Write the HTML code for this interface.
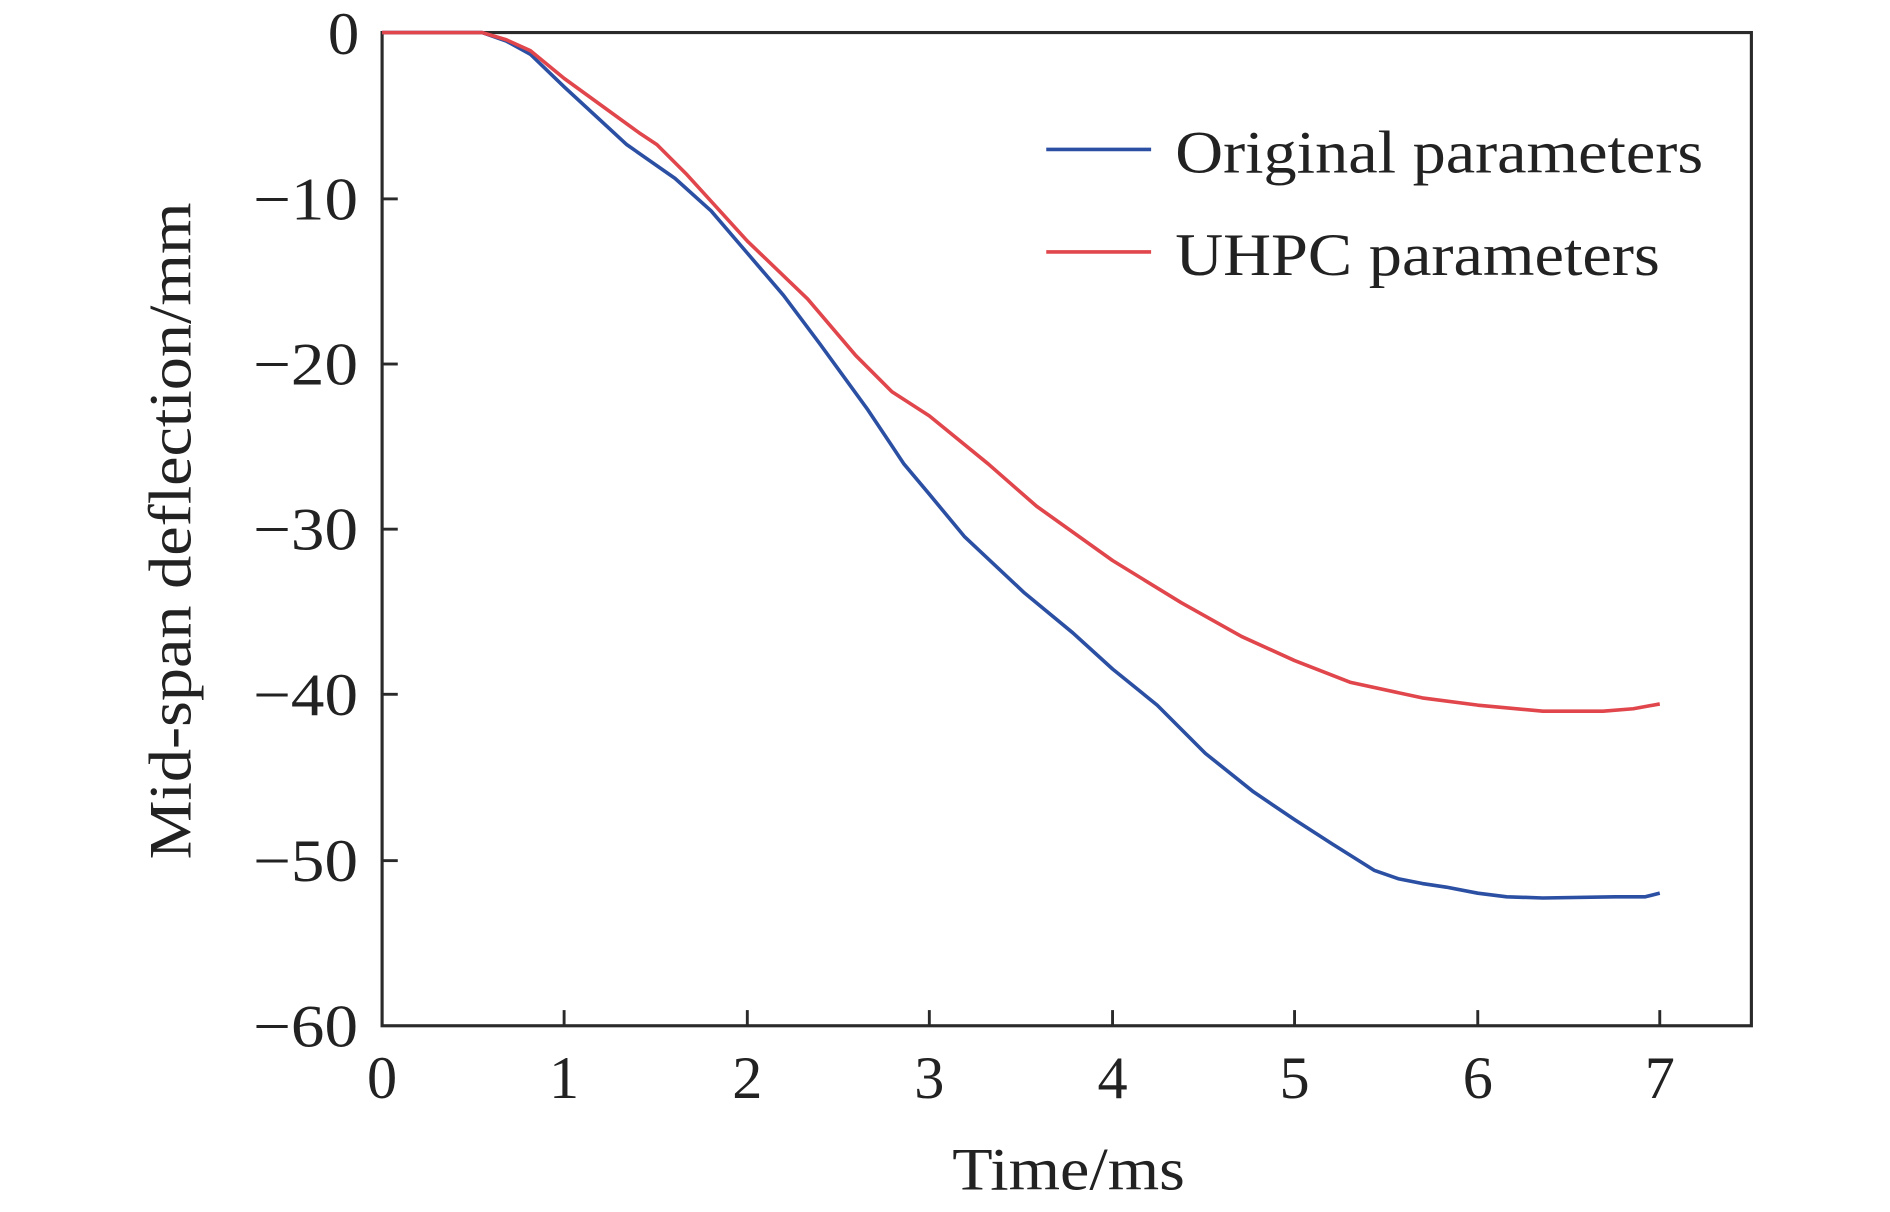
<!DOCTYPE html>
<html><head><style>html,body{margin:0;padding:0;background:#fff}svg{display:block}</style></head>
<body>
<svg width="1890" height="1212" viewBox="0 0 1568 1005.5" xmlns="http://www.w3.org/2000/svg" font-family="'Liberation Serif',serif" fill="#222">
<rect x="317" y="27" width="1136" height="824" fill="none" stroke="#2a2a2a" stroke-width="2.6"/>
<g stroke="#2a2a2a" stroke-width="2.4">
<line x1="468" y1="851" x2="468" y2="838"/><line x1="620" y1="851" x2="620" y2="838"/><line x1="771" y1="851" x2="771" y2="838"/><line x1="923" y1="851" x2="923" y2="838"/><line x1="1074" y1="851" x2="1074" y2="838"/><line x1="1226" y1="851" x2="1226" y2="838"/><line x1="1377" y1="851" x2="1377" y2="838"/>
<line x1="317" y1="165" x2="330" y2="165"/><line x1="317" y1="302" x2="330" y2="302"/><line x1="317" y1="439" x2="330" y2="439"/><line x1="317" y1="576" x2="330" y2="576"/><line x1="317" y1="714" x2="330" y2="714"/>
</g>
<g font-size="50" text-anchor="middle">
<text x="317" y="911">0</text><text x="468" y="911">1</text><text x="620" y="911">2</text><text x="771" y="911">3</text><text x="923" y="911">4</text><text x="1074" y="911">5</text><text x="1226" y="911">6</text><text x="1377" y="911">7</text>
</g>
<g font-size="50" lengthAdjust="spacingAndGlyphs">
<text x="272" y="45" textLength="26" lengthAdjust="spacingAndGlyphs">0</text>
<text x="210" y="182" textLength="87" lengthAdjust="spacingAndGlyphs">−10</text>
<text x="210" y="319" textLength="87" lengthAdjust="spacingAndGlyphs">−20</text>
<text x="210" y="456" textLength="87" lengthAdjust="spacingAndGlyphs">−30</text>
<text x="210" y="593" textLength="87" lengthAdjust="spacingAndGlyphs">−40</text>
<text x="210" y="731" textLength="87" lengthAdjust="spacingAndGlyphs">−50</text>
<text x="210" y="868" textLength="87" lengthAdjust="spacingAndGlyphs">−60</text>
</g>
<text x="790" y="987" font-size="50" textLength="193" lengthAdjust="spacingAndGlyphs">Time/ms</text>
<text transform="translate(158,713) rotate(-90)" font-size="50" textLength="545" lengthAdjust="spacingAndGlyphs">Mid-span deflection/mm</text>
<polyline fill="none" stroke="#2b4fa3" stroke-width="3" stroke-linejoin="round" points="317,27 400,27 420,34 440,45 468,72 520,120 560,148 590,175 620,210 650,245 680,285 720,340 750,385 771,410 800,445 850,492 890,525 923,555 960,585 1000,625 1040,657 1074,680 1105,700 1140,722 1160,729 1180,733 1200,736 1226,741 1250,744 1280,745 1340,744 1365,744 1377,741"/>
<polyline fill="none" stroke="#e0464b" stroke-width="3" stroke-linejoin="round" points="317,27 400,27 420,33 440,42 468,65 530,110 545,120 570,145 620,200 670,248 710,295 740,325 771,345 820,385 860,420 923,465 980,500 1030,528 1074,548 1120,566 1180,579 1226,585 1280,590 1330,590 1355,588 1377,584"/>
<line x1="868" y1="124" x2="955" y2="124" stroke="#2b4fa3" stroke-width="3"/>
<line x1="868" y1="209" x2="955" y2="209" stroke="#e0464b" stroke-width="3"/>
<text x="975" y="143" font-size="50" textLength="438" lengthAdjust="spacingAndGlyphs">Original parameters</text>
<text x="975" y="228" font-size="50" textLength="402" lengthAdjust="spacingAndGlyphs">UHPC parameters</text>
</svg>
</body></html>
